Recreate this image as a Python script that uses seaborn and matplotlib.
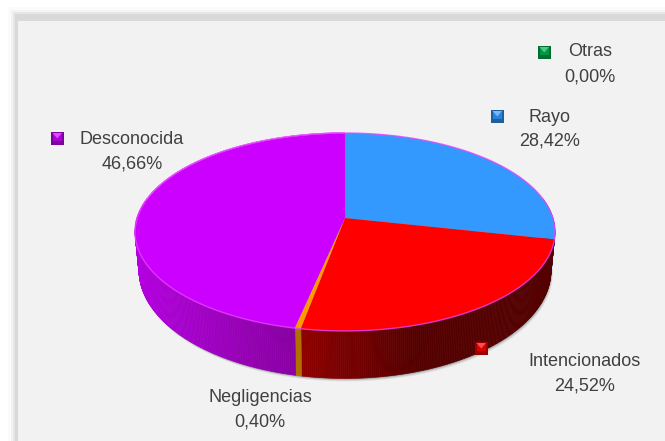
import numpy as np
import matplotlib
matplotlib.use("Agg")
import matplotlib.pyplot as plt
from matplotlib.transforms import Transform
from matplotlib.patches import Rectangle, Polygon
from matplotlib.collections import PolyCollection
from matplotlib.colors import to_rgb
import seaborn as sns

categories = ["Rayo", "Intencionados", "Negligencias", "Desconocida", "Otras"]
values = [28.42, 24.52, 0.40, 46.66, 0.00]
value_labels = ["28,42%", "24,52%", "0,40%", "46,66%", "0,00%"]
top_colors = ["#3399FF", "#FF0000", "#FF9900", "#CC00FF", "#00B050"]
side_left = ["#1F5C99", "#900000", "#B07000", "#B400E0", "#00703A"]
side_right = ["#1F5C99", "#540000", "#A06400", "#7C0090", "#00703A"]

W, H = 665, 441
CX, Y0_TOP, A_TOP, B_TOP, PERSP = 345.0, 218.0, 207.9, 97.0, 0.1414
Y0_LOW, A_LOW, B_LOW = 255.0, 204.0, 106.0


def project(u, v, a, y0, b):
    d = 1 + PERSP * v
    return CX + a * u / d, y0 - b * v / d


class DiskPerspective(Transform):
    input_dims = 2
    output_dims = 2
    is_separable = False
    has_inverse = False

    def transform_non_affine(self, values):
        pts = np.asarray(values, dtype=float)
        x, y = project(pts[:, 0], pts[:, 1], A_TOP, Y0_TOP, B_TOP)
        return np.column_stack([x, y])


sns.set_theme(style="white")
plt.rcParams["font.family"] = ["Liberation Sans", "DejaVu Sans"]

fig, ax = plt.subplots(figsize=(W / 100, H / 100), dpi=100)
fig.subplots_adjust(0, 0, 1, 1)
fig.patch.set_facecolor("white")

palette = sns.color_palette(top_colors)
wedges, _ = ax.pie(values, colors=palette, startangle=90, counterclock=False,
                   radius=1, center=(0, 0), wedgeprops={"linewidth": 0})
ax.set_aspect("auto")
ax.set_xlim(0, W)
ax.set_ylim(H, 0)
ax.axis("off")

# panel and soft frame
for inset, col in [(8, "#FBFBFB"), (11, "#F3F3F3"), (13, "#E6E6E6"), (15, "#D9D9D9")]:
    ax.add_patch(Rectangle((inset, inset - 1), W, H, fc=col, ec="none", zorder=0))
ax.add_patch(Rectangle((18, 21), W, H, fc="#F2F2F2", ec="none", zorder=0.5))

# soft shadow under the pie
t = np.radians(np.linspace(0, 360, 361))
lx, ly = project(np.cos(t), np.sin(t), A_LOW, Y0_LOW, B_LOW)
for dy, alpha in [(3, 0.10), (2, 0.18), (1, 0.30)]:
    ax.fill(lx + dy * 0.6, ly + dy, color="#555555", alpha=alpha, lw=0, zorder=1)

# side wall, one strip at a time, from the wedge angles
for w, cl, cr in zip(wedges, side_left, side_right):
    th = np.arange(w.theta1, w.theta2 + 0.5, 0.5)
    if len(th) < 2:
        th = np.array([w.theta1, w.theta2])
    polys, cols = [], []
    c0, c1 = np.array(to_rgb(cl)), np.array(to_rgb(cr))
    for a0, a1 in zip(th[:-1], th[1:]):
        if np.sin(np.radians(a0)) > 0.2:
            continue
        r0, r1 = np.radians([a0, a1])
        xt0, yt0 = project(np.cos(r0), np.sin(r0), A_TOP, Y0_TOP, B_TOP)
        xt1, yt1 = project(np.cos(r1), np.sin(r1), A_TOP, Y0_TOP, B_TOP)
        xb0, yb0 = project(np.cos(r0), np.sin(r0), A_LOW, Y0_LOW, B_LOW)
        xb1, yb1 = project(np.cos(r1), np.sin(r1), A_LOW, Y0_LOW, B_LOW)
        polys.append([(xt0, yt0), (xt1, yt1), (xb1, yb1), (xb0, yb0)])
        mid = (xt0 + xt1) / 2
        f = np.clip((mid - 137) / 200 if cl == side_left[3] else (mid - 300) / 120, 0, 1)
        cols.append(c0 + (c1 - c0) * f)
    if polys:
        ax.add_collection(PolyCollection(polys, facecolors=cols, edgecolors=cols,
                                         linewidths=0.4, zorder=2), autolim=False)

# top face: the pie's own wedges seen in perspective
persp = DiskPerspective() + ax.transData
for w in wedges:
    w.set_transform(persp)
    w.set_clip_on(False)
    w.set_zorder(3)

# lighter rim on the purple front edge
purple = wedges[3]
th = np.radians(np.arange(purple.theta1, 185, 0.5))
rx, ry = project(np.cos(th), np.sin(th), A_TOP, Y0_TOP, B_TOP)
ax.plot(rx, ry, color="#E840FF", lw=1.0, alpha=0.8, zorder=4, solid_capstyle="butt")

# label layout
label_xy = {"Otras": (590, 52, 77), "Rayo": (550, 117, 141), "Desconocida": (132, 139, 164),
            "Negligencias": (260, 398, 422), "Intencionados": (585, 361, 386)}
marker_xy = {"Otras": (538, 46), "Rayo": (491, 110), "Desconocida": (51, 132),
             "Intencionados": (475, 342)}
for name, val, col in zip(categories, value_labels, top_colors):
    x, y1, y2 = label_xy[name]
    ax.text(x, y1, name, ha="center", va="center", fontsize=13, color="#404040", zorder=6)
    ax.text(x, y2, val, ha="center", va="center", fontsize=13, color="#404040", zorder=6)
    if name in marker_xy:
        mx, my = marker_xy[name]
        c = np.array(to_rgb(col))
        s = 12.5
        ax.add_patch(Rectangle((mx, my), s, s, fc=c * 0.62, ec="none", zorder=5))
        ax.add_patch(Rectangle((mx + 1.5, my + 1), s - 3, s - 4.5, fc=c * 0.85, ec="none", zorder=5.1))
        ax.add_patch(Polygon([(mx + 1.5, my + 1), (mx + s - 1.5, my + 1), (mx + s / 2, my + 6.5)],
                             fc=c + (1 - c) * 0.3, ec="none", zorder=5.2))

fig.savefig("out.png", dpi=100, facecolor="white")
